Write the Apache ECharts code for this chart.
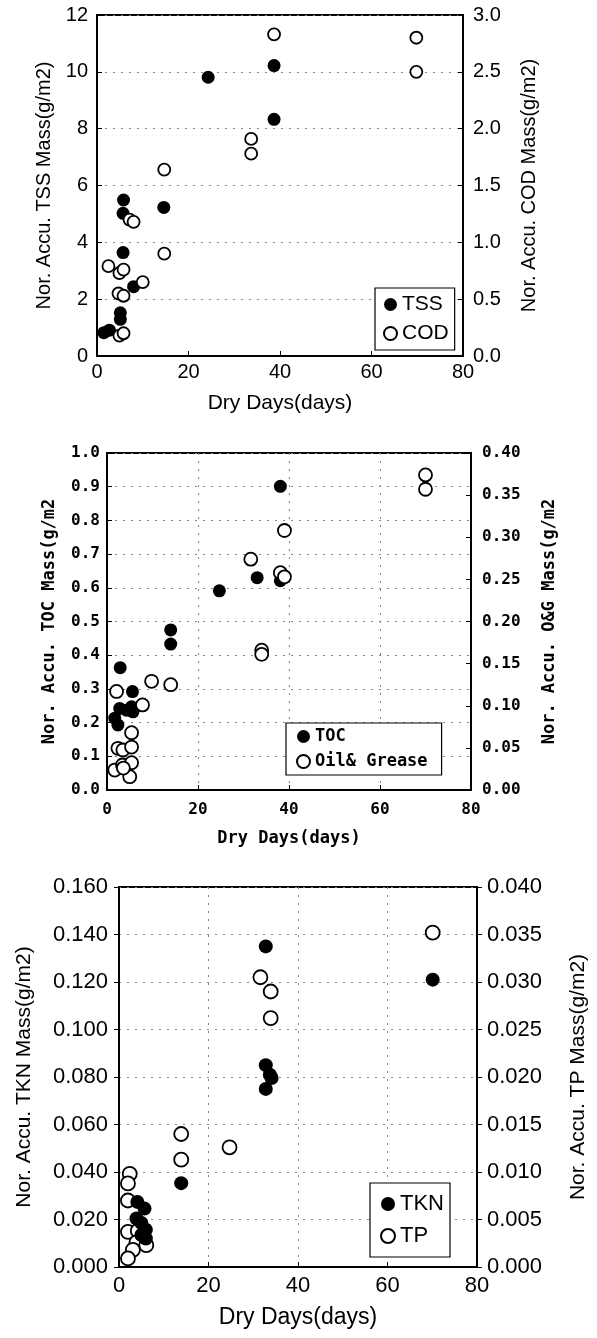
<!DOCTYPE html>
<html>
<head>
<meta charset="utf-8">
<script src="https://cdn.jsdelivr.net/npm/echarts@6/dist/echarts.min.js"></script>
<style>
  html, body { margin: 0; padding: 0; background: #fff; }
  #chart { width: 597px; height: 1338px; }
</style>
</head>
<body>
<div id="chart"></div>
<script>
// [dry days, mass]
const tss = [[1.5,0.82],[2.7,0.91],[5.1,1.52],[5.1,1.29],[5.8,5.49],[5.7,5.02],[5.7,3.64],[8.0,2.44],[14.6,5.23],[24.3,9.81],[38.7,10.22],[38.7,8.33]];
const cod = [[2.5,0.79],[4.9,0.73],[5.8,0.76],[4.7,0.55],[5.8,0.53],[4.9,0.18],[5.8,0.20],[7.1,1.20],[8.0,1.18],[10.0,0.65],[14.7,1.64],[14.7,0.90],[33.7,1.91],[33.7,1.78],[38.7,2.83],[69.8,2.80],[69.8,2.50]];

const toc = [[2.9,0.363],[5.6,0.292],[1.7,0.213],[2.4,0.193],[2.8,0.242],[4.3,0.237],[5.4,0.247],[5.7,0.232],[14.0,0.475],[14.0,0.433],[24.7,0.591],[33.0,0.630],[38.1,0.901],[38.1,0.621]];
const oilGrease = [[2.1,0.117],[7.8,0.101],[5.4,0.068],[2.4,0.0495],[3.5,0.0475],[5.4,0.051],[1.7,0.0237],[3.4,0.0297],[5.4,0.0324],[5.0,0.0158],[3.6,0.026],[9.8,0.129],[14.0,0.125],[31.6,0.274],[34.0,0.166],[34.0,0.161],[38.1,0.258],[39.0,0.253],[39.0,0.308],[70.0,0.374],[70.0,0.357]];

const tkn = [[4.1,0.0274],[5.7,0.0246],[3.9,0.0204],[5.0,0.0185],[6.0,0.0157],[5.0,0.0135],[6.0,0.0120],[13.9,0.0353],[32.8,0.135],[32.8,0.085],[33.7,0.081],[34.1,0.0796],[32.8,0.075],[70.1,0.121]];
const tp = [[2.4,0.0098],[2.0,0.0088],[2.0,0.0070],[2.0,0.0037],[4.2,0.0038],[3.9,0.0026],[6.1,0.0023],[3.1,0.0018],[2.0,0.0009],[13.9,0.0140],[13.9,0.0113],[24.7,0.0126],[31.6,0.0305],[33.9,0.0290],[33.9,0.0262],[70.1,0.0352]];

const SANS = 'Liberation Sans, Arial, sans-serif';
const MONO = 'DejaVu Sans Mono, monospace';

const chart = echarts.init(document.getElementById('chart'));

// helpers so the three panels share styling
function xAx(grid, font, size, bold, margin, gap, split) {
  return {
    gridIndex: grid, type: 'value', min: 0, max: 80, interval: 20,
    name: 'Dry Days(days)', nameLocation: 'middle', nameGap: gap, nameMoveOverlap: false,
    nameTextStyle: { fontFamily: font, fontSize: size + 1, fontWeight: bold ? 'bold' : 'normal', color: '#000' },
    axisLine: { lineStyle: { color: '#000', width: 2 } },
    axisTick: { inside: true, length: 5, lineStyle: { color: '#000' } },
    axisLabel: { fontFamily: font, fontSize: size, fontWeight: bold ? 'bold' : 'normal', color: '#000', margin: margin },
    splitLine: { show: split, lineStyle: { color: '#888', type: [2, 6], width: 1 } },
  };
}
function yAx(grid, pos, max, interval, digits, name, font, size, nameSize, bold, margin, gap, split, tickOut) {
  return {
    gridIndex: grid, type: 'value', position: pos, min: 0, max: max, interval: interval,
    name: name, nameLocation: 'middle', nameRotate: 90, nameGap: gap, nameMoveOverlap: false,
    nameTextStyle: { fontFamily: font, fontSize: nameSize, fontWeight: bold ? 'bold' : 'normal', color: '#000' },
    axisLine: { show: true, lineStyle: { color: '#000', width: 2 } },
    axisTick: { show: true, inside: !tickOut, length: 5, lineStyle: { color: '#000' } },
    axisLabel: {
      fontFamily: font, fontSize: size, fontWeight: bold ? 'bold' : 'normal', color: '#000', margin: margin,
      formatter: (v) => v.toFixed(digits),
    },
    splitLine: { show: split, lineStyle: { color: '#888', type: [2, 6], width: 1 } },
  };
}
function dots(name, data, xi, yi, filled, size) {
  return {
    name: name, type: 'scatter', xAxisIndex: xi, yAxisIndex: yi, data: data,
    symbol: 'circle', symbolSize: size,
    itemStyle: filled
      ? { color: '#000', opacity: 1 }
      : { color: '#fff', borderColor: '#000', borderWidth: 1.8, opacity: 1 },
  };
}
function legendBox(names, left, top, font, size, bold, pad, gap, icon) {
  return {
    data: names, orient: 'vertical', left: left, top: top,
    padding: pad, itemGap: gap, itemWidth: icon, itemHeight: icon,
    borderColor: '#000', borderWidth: 1.2, backgroundColor: '#fff',
    icon: 'circle',
    textStyle: { fontFamily: font, fontSize: size, fontWeight: bold ? 'bold' : 'normal', color: '#000' },
  };
}

chart.setOption({
  animation: false,
  backgroundColor: '#fff',
  grid: [
    { left: 97, top: 15, width: 366, height: 341, show: true, borderColor: '#000', borderWidth: 2 },
    { left: 107, top: 453, width: 364, height: 337, show: true, borderColor: '#000', borderWidth: 2 },
    { left: 119, top: 887, width: 358, height: 380, show: true, borderColor: '#000', borderWidth: 2 },
  ],
  xAxis: [
    xAx(0, SANS, 20, false, 6, 37, false),
    xAx(1, MONO, 16, true, 12, 40, true),
    xAx(2, SANS, 22, false, 8, 39, true),
  ],
  yAxis: [
    yAx(0, 'left', 12, 2, 0, 'Nor. Accu. TSS Mass(g/m2)', SANS, 20, 20, false, 9, 43, true, false),
    yAx(0, 'right', 3, 0.5, 1, 'Nor. Accu. COD Mass(g/m2)', SANS, 20, 20, false, 10, 56, false, false),
    yAx(1, 'left', 1, 0.1, 1, 'Nor. Accu. TOC Mass(g/m2', MONO, 16, 17, true, 7, 49, true, false),
    yAx(1, 'right', 0.4, 0.05, 2, 'Nor. Accu. O&G Mass(g/m2', MONO, 16, 17, true, 11, 70, false, false),
    yAx(2, 'left', 0.16, 0.02, 3, 'Nor. Accu. TKN Mass(g/m2)', SANS, 22, 21, false, 11, 84, true, true),
    yAx(2, 'right', 0.04, 0.005, 3, 'Nor. Accu. TP Mass(g/m2)', SANS, 22, 21, false, 10, 91, false, true),
  ],
  legend: [
    legendBox(['TSS', 'COD'], 375, 288, SANS, 21, false, [6, 6, 6, 8], 8, 13),
    legendBox(['TOC', 'Oil& Grease'], 286, 723, MONO, 17, true, [5, 14, 5, 10], 8, 13),
    legendBox(['TKN', 'TP'], 370, 1183, SANS, 22, false, [10, 6, 10, 10], 10, 14),
  ],
  series: [
    dots('TSS', tss, 0, 0, true, 13),
    dots('COD', cod, 0, 1, false, 12),
    dots('TOC', toc, 1, 2, true, 13),
    dots('Oil& Grease', oilGrease, 1, 3, false, 13),
    dots('TP', tp, 2, 5, false, 14),
    dots('TKN', tkn, 2, 4, true, 14),
  ],
});
</script>
</body>
</html>
